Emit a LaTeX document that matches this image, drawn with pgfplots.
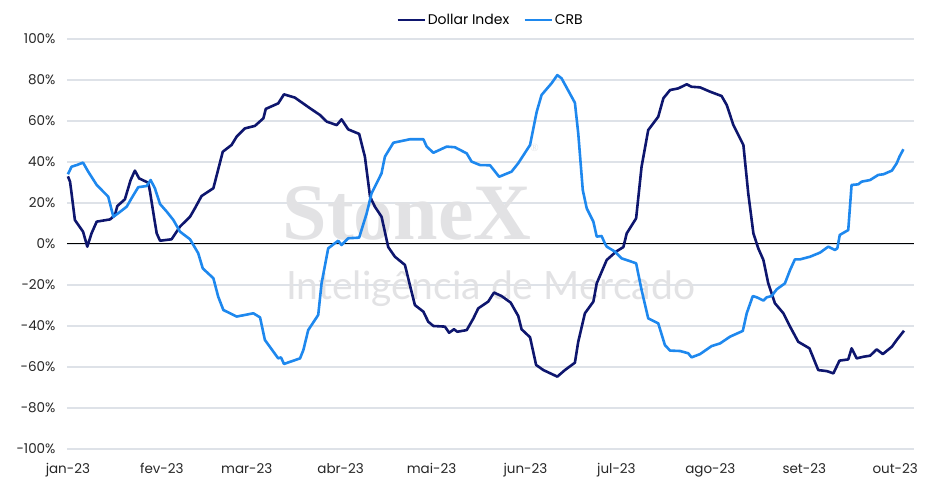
\documentclass[border=0pt]{standalone}
\usepackage{fontspec}
\setmainfont{Poppins}
\newfontfamily\wmserif{Liberation Serif}
\newfontfamily\wmsans{Lato}
\usepackage{pgfplots}
\pgfplotsset{compat=1.18}
\usetikzlibrary{calc}
\definecolor{dollarnavy}{RGB}{14,22,110}
\definecolor{crbblue}{RGB}{30,136,238}
\definecolor{gridgray}{RGB}{222,226,232}
\definecolor{wmgray}{RGB}{226,226,228}

% x = days since 1 Jan 2023
\pgfplotstableread{
x y
0 33
0.7 30.4
1.2 24.8
2.3 11.7
5.0 6
6.4 -1.3
7.8 5.2
9.5 10.9
13.9 12
15.5 14
16.3 18.5
18.8 21.8
20.7 31.2
22.1 35.8
23.5 32
26.5 29.9
27.1 25.5
28.4 13.3
29.3 5.2
30.4 1.6
34.2 2.3
37.0 8.5
40.3 13.3
41.9 17.4
44.1 23.4
48.0 27.2
51.1 45
54.0 48.3
55.7 52.4
58.4 56.4
61.7 57.6
64.5 61.3
65.3 65.9
69.4 68.6
71.3 73
74.9 71.4
79.9 66.2
83.2 62.9
85.4 59.7
88.7 58
90.3 60.8
92.5 55.9
96.1 53.7
98.0 42.6
99.7 23.1
101.3 18.2
103.5 13.3
105.7 -1.5
107.9 -6.2
111.2 -10.2
114.5 -29.8
117.3 -33
118.9 -37.9
120.6 -40
124.4 -40.3
125.8 -43.3
127.4 -41.6
128.5 -42.8
131.6 -42
133.8 -36.3
135.4 -31.4
138.7 -28.1
140.6 -23.7
143.1 -25.4
146.1 -28.6
148.6 -35.1
149.7 -41.6
152.5 -45.5
154.5 -59
156.9 -61.5
161.5 -64.7
164.0 -61.5
167.3 -57.9
168.4 -47.7
170.6 -33.8
173.4 -28.1
174.5 -19.2
177.8 -7.8
180.9 -3.7
183.3 -1.5
184.4 5.2
187.5 12.5
189.3 37.7
191.5 55.6
194.8 62.1
196.5 71.1
198.7 75.1
201.4 75.9
204.2 77.9
205.8 76.7
208.6 76.4
211.9 74.3
215.7 72.2
217.4 67.8
219.6 58
222.9 48.3
224.5 24.7
226.2 5.2
227.8 -2.1
229.5 -7.8
231.1 -19.2
233.3 -28.9
236.1 -33.8
238.3 -40.3
241.0 -47.7
244.7 -50.9
247.6 -61.5
250.4 -62
252.6 -63.1
254.6 -56.9
257.5 -56.3
258.6 -50.9
260.3 -55.8
262.5 -55
264.7 -54.5
266.9 -51.4
268.9 -53.7
271.9 -50.1
273.5 -46.8
275.9 -42.3
}\dollartab

\pgfplotstableread{
x y
0 34
1.2 37.7
2.9 38.5
5.0 39.7
6.7 35.3
9.5 28.8
13.3 23.1
15.0 13.3
16.6 15
19.4 18.2
21.0 22.3
23.2 27.7
26.0 28.3
27.3 31.2
28.7 27.2
30.4 19.5
32.6 15.8
34.8 11.7
37.0 6
40.3 2.3
43.0 -4.5
44.5 -11.9
48.0 -16.7
49.6 -25.7
51.3 -32.2
55.7 -35.4
61.2 -33.8
63.4 -35.8
65.0 -46.8
69.4 -55.8
70.3 -55.3
71.3 -58.5
76.6 -55.8
77.7 -51.7
79.3 -42
82.6 -34.6
83.7 -19.2
85.9 -2.1
89.2 1.6
90.3 -0.5
92.5 2.8
96.1 3.1
98.6 15
100.2 24.7
103.5 34.5
104.6 42.6
107.4 49.4
112.9 51.1
117.3 51.1
118.4 47.5
120.6 44.5
125.0 47.5
127.7 47.2
131.6 44.2
133.2 40.2
136.0 38.5
139.3 38.4
142.3 32.8
146.4 35.3
148.6 39.4
152.5 48.3
154.7 64.5
156.3 72.7
159.6 78.4
161.5 82.4
162.9 80.8
167.3 68.9
168.4 54
169.9 26.3
171.2 17.4
173.4 10.9
174.5 3.6
176.1 3.9
177.2 0.3
177.8 -1.3
180.5 -3.7
182.7 -7
187.5 -9.4
189.3 -22.4
191.5 -36.3
194.8 -38.7
197.0 -49.3
198.7 -52
202.0 -52.2
204.7 -53.3
205.8 -55.3
208.6 -53.7
212.4 -49.8
215.2 -48.5
218.5 -45.2
222.7 -42.4
224.0 -33.8
226.0 -25.4
227.3 -26
229.5 -27.6
230.6 -26
232.2 -25.4
233.9 -22.1
236.6 -19.2
238.3 -12.7
239.9 -7.5
241.6 -7.5
244.9 -6.2
248.2 -4.2
250.9 -1.3
253.1 -2.9
253.9 -2.1
254.7 4.4
257.5 6.8
258.6 28.8
260.8 29.1
261.9 30.4
264.7 31.2
267.4 33.7
269.1 34
271.9 35.8
273.5 39.4
274.4 42.6
275.7 46.2
}\crbtab

\begin{document}
\begin{tikzpicture}
\begin{axis}[
    scale only axis,
    width=847pt, height=410pt,
    xmin=-0.3, xmax=279.2,
    ymin=-100, ymax=100,
    xtick={0,31,59,90,120,151,181,212,243,273},
    xticklabels={jan-23,fev-23,mar-23,abr-23,mai-23,jun-23,jul-23,ago-23,set-23,out-23},
    ytick={-100,-80,-60,-40,-20,0,20,40,60,80,100},
    yticklabels={-100\%,-80\%,-60\%,-40\%,-20\%,0\%,20\%,40\%,60\%,80\%,100\%},
    ymajorgrids,
    major grid style={gridgray, line width=1.2pt},
    axis line style={draw=none},
    tick style={draw=none},
    ticklabel style={font=\fontsize{13.5}{15}\selectfont, text=black!85},
    yticklabel style={xshift=-8pt},
    xticklabel style={yshift=-11pt},
    legend style={at={(0.5,1.0)}, anchor=south, yshift=9pt, draw=none,
        legend columns=2, font=\fontsize{14}{16}\selectfont,
        /tikz/every even column/.append style={column sep=12pt}},
    legend image code/.code={\draw[#1, line width=2.6pt] (0pt,0pt) -- (27pt,0pt);},
    clip=false,
]
\node[wmgray, font=\wmserif\bfseries\fontsize{80}{80}\selectfont, anchor=base] at (axis cs:112,2) {StoneX};
\node[wmgray, font=\wmserif\fontsize{11}{11}\selectfont] at (axis cs:154,47) {\textregistered};
\node[wmgray, font=\wmsans\fontsize{39}{39}\selectfont, anchor=base] at (axis cs:139.5,-27) {Inteligência de Mercado};
\draw[black, line width=1pt] (axis cs:-0.3,0) -- (axis cs:279.2,0);
\addplot[dollarnavy, line width=2.6pt, line join=round] table {\dollartab};
\addplot[crbblue, line width=2.6pt, line join=round] table {\crbtab};
\legend{Dollar Index, CRB}
\end{axis}
\pgfresetboundingbox
\path[use as bounding box] ($(current axis.south west)+(-67pt,-45pt)$) rectangle ($(current axis.north east)+(11pt,39pt)$);
\end{tikzpicture}
\end{document}
